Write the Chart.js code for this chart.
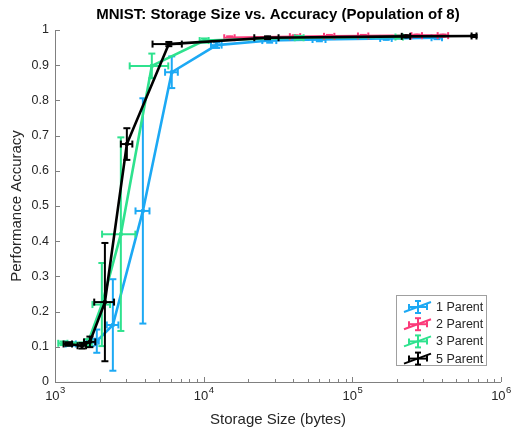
<!DOCTYPE html>
<html>
<head>
<meta charset="utf-8">
<script src="https://cdn.jsdelivr.net/npm/chart.js@4/dist/chart.umd.min.js"></script>
<style>
  html, body { margin: 0; padding: 0; background: #fff; }
  #wrap { width: 511px; height: 428px; }
</style>
</head>
<body>
<div id="wrap"><canvas id="chart" width="511" height="428"></canvas></div>
<script>
// storage size (bytes) and accuracy per series
var storage1 = [1280, 1750, 1910, 2450, 3900, 6100, 12200, 27800, 60000, 169000, 371000];
var acc1 = [0.108, 0.112, 0.116, 0.162, 0.486, 0.88, 0.957, 0.97, 0.973, 0.976, 0.978];
var storageErr1 = [100, 120, 60, 220, 420, 600, 1000, 3000, 6000, 15000, 30000];
var accErr1 = [0.005, 0.01, 0.033, 0.13, 0.32, 0.045, 0.008, 0.006, 0.005, 0.004, 0.004];

var storage2 = [14950, 41300, 70100, 118600, 272000, 408000];
var acc2 = [0.978, 0.981, 0.982, 0.983, 0.984, 0.984];
var storageErr2 = [1200, 3300, 5600, 9500, 22000, 33000];
var accErr2 = [0.004, 0.004, 0.004, 0.003, 0.003, 0.003];

var storage3 = [1132, 1665, 2066, 2773, 4480, 10100, 44000, 207000];
var acc3 = [0.11, 0.112, 0.22, 0.42, 0.898, 0.97, 0.978, 0.98];
var storageErr3 = [80, 100, 280, 700, 1300, 700, 3000, 12000];
var accErr3 = [0.005, 0.01, 0.118, 0.275, 0.035, 0.006, 0.005, 0.004];

var storage5 = [1222, 1518, 1717, 2166, 3043, 5830, 26900, 230000, 659000];
var acc5 = [0.108, 0.103, 0.114, 0.227, 0.676, 0.96, 0.978, 0.982, 0.983];
var storageErr5 = [80, 100, 150, 330, 270, 1300, 5000, 15000, 25000];
var accErr5 = [0.005, 0.008, 0.015, 0.168, 0.045, 0.006, 0.004, 0.003, 0.003];

var seriesNames = ['1 Parent', '2 Parent', '3 Parent', '5 Parent'];
var seriesColors = ['#1ca9f4', '#fb3a79', '#2ee28e', '#000000'];
var xTickExponents = [3, 4, 5, 6];
var yTickStep = 0.1;

var FONT = "'Liberation Sans', Arial, Helvetica, sans-serif";
var AXIS = '#808080';
var TEXT = '#262626';

var errs = [
  { x: storageErr1, y: accErr1 },
  { x: storageErr2, y: accErr2 },
  { x: storageErr3, y: accErr3 },
  { x: storageErr5, y: accErr5 }
];

function points(xs, ys) {
  return xs.map(function (x, i) { return { x: x, y: ys[i] } });
}

function makeSet(i, xs, ys) {
  return {
    label: seriesNames[i],
    data: points(xs, ys),
    borderColor: seriesColors[i],
    backgroundColor: seriesColors[i],
    borderWidth: 2.6,
    pointStyle: 'rect',
    pointRadius: 2,
    pointBorderWidth: 1,
    tension: 0,
    order: 3 - i
  };
}

function capLine(ctx, x1, y1, x2, y2) {
  ctx.beginPath();
  ctx.moveTo(x1, y1);
  ctx.lineTo(x2, y2);
  ctx.stroke();
}

var errorBars = {
  id: 'errorBars',
  afterDatasetDraw: function (chart, args) {
    var i = args.index;
    var ds = chart.data.datasets[i];
    var e = errs[i];
    var xs = chart.scales.x, ys = chart.scales.y;
    var ctx = chart.ctx;
    var cap = 3.5;
    ctx.save();
    ctx.strokeStyle = ds.borderColor;
    ctx.lineWidth = 2;
    ds.data.forEach(function (p, k) {
      var px = xs.getPixelForValue(p.x), py = ys.getPixelForValue(p.y);
      var top = ys.getPixelForValue(p.y + e.y[k]), bot = ys.getPixelForValue(p.y - e.y[k]);
      var lft = xs.getPixelForValue(p.x - e.x[k]), rgt = xs.getPixelForValue(p.x + e.x[k]);
      capLine(ctx, px, top, px, bot);
      capLine(ctx, px - cap, top, px + cap, top);
      capLine(ctx, px - cap, bot, px + cap, bot);
      capLine(ctx, lft, py, rgt, py);
      capLine(ctx, lft, py - cap, lft, py + cap);
      capLine(ctx, rgt, py - cap, rgt, py + cap);
    });
    ctx.restore();
  }
};

var decor = {
  id: 'decor',
  afterDraw: function (chart) {
    var ctx = chart.ctx;
    var a = chart.chartArea;
    var xs = chart.scales.x, ys = chart.scales.y;
    ctx.save();

    // axes lines with inward ticks
    ctx.strokeStyle = AXIS;
    ctx.lineWidth = 1;
    capLine(ctx, a.left + 0.5, a.top, a.left + 0.5, a.bottom + 0.5);
    capLine(ctx, a.left, a.bottom + 0.5, a.right, a.bottom + 0.5);
    for (var v = 0; v <= 1.0001; v += yTickStep) {
      var y = Math.round(ys.getPixelForValue(v)) + 0.5;
      capLine(ctx, a.left, y, a.left + 5, y);
    }
    xTickExponents.forEach(function (ex, j) {
      var base = Math.pow(10, ex);
      var x = Math.round(xs.getPixelForValue(base)) + 0.5;
      capLine(ctx, x, a.bottom, x, a.bottom - 5);
      if (j < xTickExponents.length - 1) {
        for (var m = 2; m <= 9; m++) {
          var xm = Math.round(xs.getPixelForValue(base * m)) + 0.5;
          capLine(ctx, xm, a.bottom, xm, a.bottom - 3);
        }
      }
    });

    // x tick labels 10^n
    ctx.fillStyle = TEXT;
    ctx.textBaseline = 'alphabetic';
    xTickExponents.forEach(function (ex) {
      var x = xs.getPixelForValue(Math.pow(10, ex));
      ctx.font = '13px ' + FONT;
      var w1 = ctx.measureText('10').width;
      ctx.font = '9.5px ' + FONT;
      var w2 = ctx.measureText(String(ex)).width;
      var x0 = x - (w1 + w2) / 2;
      ctx.font = '13px ' + FONT;
      ctx.textAlign = 'left';
      ctx.fillText('10', x0, 400);
      ctx.font = '9.5px ' + FONT;
      ctx.fillText(String(ex), x0 + w1 + 0.5, 393);
    });

    // title and axis titles
    ctx.textAlign = 'center';
    ctx.font = 'bold 15px ' + FONT;
    ctx.fillStyle = '#000';
    ctx.fillText('MNIST: Storage Size vs. Accuracy (Population of 8)', (a.left + a.right) / 2, 19);
    ctx.fillStyle = TEXT;
    ctx.font = '15px ' + FONT;
    ctx.fillText('Storage Size (bytes)', (a.left + a.right) / 2, 424);
    ctx.save();
    ctx.translate(21, (a.top + a.bottom) / 2);
    ctx.rotate(-Math.PI / 2);
    ctx.fillText('Performance Accuracy', 0, 0);
    ctx.restore();

    // legend box
    var lx = 396, ly = 295, lw = 90, lh = 70;
    ctx.fillStyle = '#fff';
    ctx.fillRect(lx, ly, lw, lh);
    ctx.strokeStyle = '#a0a0a0';
    ctx.lineWidth = 1;
    ctx.strokeRect(lx + 0.5, ly + 0.5, lw, lh);
    ctx.font = '12.5px ' + FONT;
    ctx.textAlign = 'left';
    ctx.textBaseline = 'middle';
    seriesNames.forEach(function (name, i) {
      var cy = 307 + i * 17.2;
      ctx.strokeStyle = seriesColors[i];
      ctx.lineWidth = 2;
      capLine(ctx, 404, cy + 5, 431, cy - 5);
      capLine(ctx, 418, cy - 6, 418, cy + 6);
      capLine(ctx, 415, cy - 6, 421, cy - 6);
      capLine(ctx, 415, cy + 6, 421, cy + 6);
      capLine(ctx, 409, cy, 427, cy);
      capLine(ctx, 409, cy - 3, 409, cy + 3);
      capLine(ctx, 427, cy - 3, 427, cy + 3);
      ctx.fillStyle = TEXT;
      ctx.fillText(name, 436, cy + 0.5);
    });
    ctx.restore();
  }
};

new Chart(document.getElementById('chart'), {
  type: 'line',
  data: {
    datasets: [
      makeSet(0, storage1, acc1),
      makeSet(1, storage2, acc2),
      makeSet(2, storage3, acc3),
      makeSet(3, storage5, acc5)
    ]
  },
  options: {
    responsive: false,
    animation: false,
    events: [],
    layout: { padding: { top: 30, right: 10, left: 0, bottom: 0 } },
    plugins: { legend: { display: false }, tooltip: { enabled: false }, title: { display: false } },
    scales: {
      x: {
        type: 'logarithmic',
        min: 1000,
        max: 1000000,
        afterBuildTicks: function (s) {
          s.ticks = xTickExponents.map(function (ex) { return { value: Math.pow(10, ex) } });
        },
        afterFit: function (s) { s.height = 46 },
        grid: { display: false, drawTicks: false },
        border: { display: false },
        ticks: { display: false }
      },
      y: {
        type: 'linear',
        min: 0,
        max: 1,
        afterFit: function (s) { s.width = 55 },
        grid: { display: false, drawTicks: false },
        border: { display: false },
        ticks: {
          stepSize: yTickStep,
          padding: 6,
          color: TEXT,
          font: { family: FONT, size: 12.5 },
          callback: function (v) {
            if (Math.abs(v) < 1e-9) return '0';
            if (Math.abs(v - 1) < 1e-9) return '1';
            return v.toFixed(1);
          }
        }
      }
    }
  },
  plugins: [errorBars, decor]
});
</script>
</body>
</html>
